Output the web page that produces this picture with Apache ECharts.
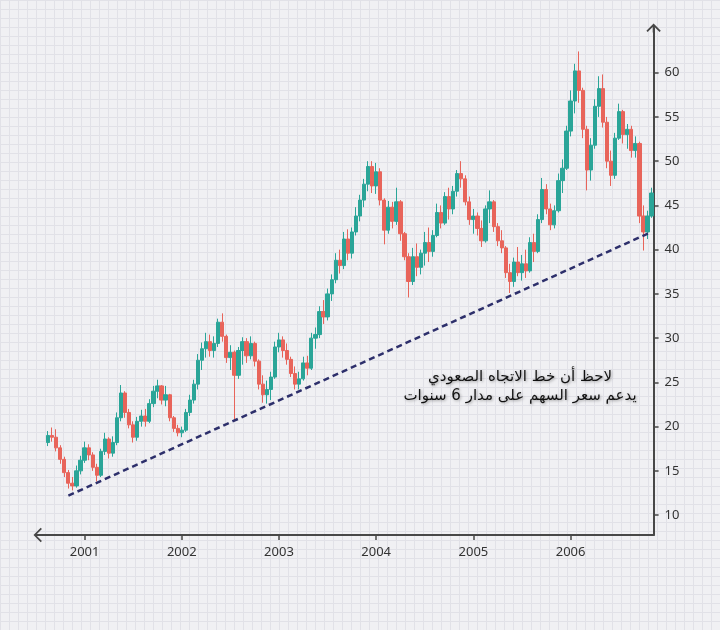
<!DOCTYPE html>
<html>
<head>
<meta charset="utf-8">
<script src="https://cdn.jsdelivr.net/npm/echarts@6/dist/echarts.min.js"></script>
<style>
  html, body { margin: 0; padding: 0; }
  body {
    width: 720px; height: 630px; overflow: hidden;
    background-color: #f0f0f3;
    background-image:
      linear-gradient(to right, #e1e1e7 1px, transparent 1px),
      linear-gradient(to bottom, #e1e1e7 1px, transparent 1px);
    background-size: 9px 9px;
  }
  #chart { width: 720px; height: 630px; }
</style>
</head>
<body>
<div id="chart"></div>
<script>
// ---- data ----
// half-month periods, first period starts 2000-07-16
const startYear = 2000, startMonth = 7, startHalf = 2, periodCount = 152;
const yearLabels = ['2001', '2002', '2003', '2004', '2005', '2006'];
const yTicks = [10, 15, 20, 25, 30, 35, 40, 45, 50, 55, 60];
// [open, close, low, high]
const candles = [
  ['-','-','-','-'], ['-','-','-','-'],
  [18.2,19.0,17.8,19.5],[19.0,18.8,18.3,19.9],[18.8,17.6,17.2,19.7],[17.6,16.3,15.8,17.9],
  [16.3,14.8,14.3,16.6],[14.8,13.6,13.0,15.1],[13.6,13.3,12.8,14.3],[13.3,15.0,13.1,15.6],
  [15.0,16.2,14.6,16.7],[16.2,17.6,15.9,18.3],[17.6,16.8,16.2,18.0],[16.8,15.4,15.0,17.1],
  [15.4,14.5,13.8,15.8],[14.5,17.2,14.3,17.5],[17.2,18.6,16.8,19.3],[18.6,17.0,16.4,18.8],
  [17.0,18.2,16.6,18.9],[18.2,21.0,17.9,21.6],[21.0,23.8,20.6,24.7],[23.8,21.6,21.0,24.0],
  [21.6,20.2,19.8,22.0],[20.2,18.8,18.2,20.6],[18.8,20.6,18.4,21.1],[20.6,21.2,20.0,21.9],
  [21.2,20.6,20.0,22.0],[20.6,22.6,20.4,23.1],[22.6,24.0,22.2,24.6],[24.0,24.6,23.2,25.3],
  [24.6,23.0,22.5,24.7],[23.0,23.6,22.3,24.6],[23.6,21.0,20.6,23.7],[21.0,19.8,19.4,21.2],
  [19.8,19.3,18.9,20.2],[19.3,19.6,18.8,20.0],[19.6,21.6,19.4,22.0],[21.6,23.0,21.2,23.6],
  [23.0,24.8,22.6,25.3],[24.8,27.5,24.2,28.2],[27.5,28.8,26.4,29.5],[28.8,29.6,27.8,30.6],
  [29.6,28.6,27.9,30.4],[28.6,29.4,27.8,30.2],[29.4,31.8,29.0,32.2],[31.8,30.2,29.6,32.8],
  [30.2,27.8,27.2,30.4],[27.8,28.4,26.4,29.2],[28.4,25.8,20.6,28.6],[25.8,28.6,25.4,29.0],
  [28.6,29.6,27.0,30.1],[29.6,28.0,27.2,30.0],[28.0,29.4,27.6,30.2],[29.4,27.4,26.8,29.6],
  [27.4,24.8,24.2,27.6],[24.8,23.6,22.7,25.8],[23.6,24.2,22.6,25.2],[24.2,25.6,23.0,26.2],
  [25.6,29.0,25.4,29.6],[29.0,29.8,28.4,30.6],[29.8,28.6,27.8,30.2],[28.6,27.6,27.0,29.4],
  [27.6,26.0,25.6,27.9],[26.0,24.8,24.2,26.8],[24.8,25.4,24.2,26.2],[25.4,27.2,25.2,27.9],
  [27.2,26.6,25.8,28.0],[26.6,30.0,26.4,30.6],[30.0,30.4,28.8,31.2],[30.4,33.0,30.0,33.6],
  [33.0,32.4,31.6,34.3],[32.4,35.0,32.0,35.6],[35.0,36.6,34.2,37.2],[36.6,38.8,36.2,39.6],
  [38.8,38.2,37.3,40.0],[38.2,41.2,37.8,42.0],[41.2,39.6,38.8,42.3],[39.6,42.0,39.0,42.5],
  [42.0,43.8,41.6,44.8],[43.8,45.6,43.2,46.2],[45.6,47.4,44.8,48.0],[47.4,49.4,46.6,50.0],
  [49.4,47.2,46.4,50.0],[47.2,48.8,46.3,49.8],[48.8,45.6,45.0,49.2],[45.6,42.2,40.6,45.8],
  [42.2,44.8,41.8,45.5],[44.8,43.2,42.4,45.4],[43.2,45.4,42.8,47.0],[45.4,41.8,41.0,45.6],
  [41.8,39.2,38.8,42.0],[39.2,36.4,34.6,39.6],[36.4,39.2,36.0,40.2],[39.2,38.0,37.0,40.7],
  [38.0,39.6,37.2,40.0],[39.6,40.8,38.2,42.0],[40.8,39.8,38.6,42.5],[39.8,41.6,39.2,42.2],
  [41.6,44.2,41.4,45.2],[44.2,43.0,42.4,45.0],[43.0,46.0,42.8,46.5],[46.0,44.6,43.4,47.0],
  [44.6,46.6,44.0,47.2],[46.6,48.6,46.0,49.0],[48.6,48.0,47.0,50.0],[48.0,45.4,45.0,48.4],
  [45.4,43.4,42.8,46.0],[43.4,43.8,41.8,44.6],[43.8,42.4,41.6,44.2],[42.4,41.0,40.3,43.3],
  [41.0,44.6,40.8,45.0],[44.6,45.4,43.0,46.7],[45.4,42.6,42.0,45.6],[42.6,41.0,40.4,43.0],
  [41.0,40.2,39.6,42.2],[40.2,37.4,36.8,40.4],[37.4,36.4,35.1,38.4],[36.4,38.6,35.8,39.1],
  [38.6,37.4,37.0,40.3],[37.4,38.4,36.5,39.4],[38.4,37.6,36.8,40.0],[37.6,40.8,37.4,41.4],
  [40.8,39.8,38.6,41.8],[39.8,43.4,39.6,44.0],[43.4,46.8,43.0,48.1],[46.8,44.6,44.0,47.4],
  [44.6,42.8,42.2,45.2],[42.8,44.4,42.4,45.0],[44.4,47.8,44.2,48.6],[47.8,49.2,46.4,50.2],
  [49.2,53.4,49.0,54.0],[53.4,56.8,52.8,58.0],[56.8,60.2,55.4,61.0],[60.2,58.0,56.6,62.4],
  [58.0,53.6,52.6,58.3],[53.6,49.0,46.7,54.0],[49.0,51.8,47.8,52.6],[51.8,56.2,51.4,57.0],
  [56.2,58.2,55.0,59.6],[58.2,54.4,53.8,59.8],[54.4,50.0,49.2,55.0],[50.0,48.4,47.2,51.2],
  [48.4,52.6,48.0,53.2],[52.6,55.6,52.4,56.5],[55.6,53.0,52.0,55.8],[53.0,53.6,51.4,54.2],
  [53.6,51.2,50.4,54.0],[51.2,52.0,50.4,52.8],[52.0,43.8,43.0,52.2],[43.8,42.0,39.9,45.0],
  [42.0,43.8,41.2,44.4],[43.8,46.4,43.6,47.0]
];
const trendLine = [['2000-11-01', 12.2], ['2006-11-01', 42.0]];
const noteText = 'لاحظ أن خط الاتجاه الصعودي\nيدعم سعر السهم على مدار 6 سنوات';

// ---- categories (half-month period start dates) ----
const categories = [];
{
  let y = startYear, m = startMonth, h = startHalf;
  for (let k = 0; k < periodCount; k++) {
    categories.push(y + '-' + String(m).padStart(2, '0') + '-' + (h === 1 ? '01' : '16'));
    if (h === 1) { h = 2; } else { h = 1; m++; if (m > 12) { m = 1; y++; } }
  }
}
const isYearStart = (idx, v) => v.endsWith('-01-01') && yearLabels.includes(v.slice(0, 4));

const axisColor = '#474747';
const arrowPath = 'path://M8 0 L16 8 L14.6 9.4 L9 3.8 L9 10 L7 10 L7 3.8 L1.4 9.4 L0 8 Z';

const chart = echarts.init(document.getElementById('chart'), null, { renderer: 'canvas' });
chart.setOption({
  animation: false,
  backgroundColor: 'transparent',
  grid: { left: 38, right: 66.4, top: 28, bottom: 95 },
  xAxis: {
    type: 'category',
    data: categories,
    boundaryGap: true,
    axisLine: {
      show: true, onZero: false,
      lineStyle: { color: axisColor, width: 2 },
      symbol: [arrowPath, 'none'], symbolSize: [15, 9]
    },
    axisTick: { show: true, interval: isYearStart, alignWithLabel: true, length: 5, lineStyle: { color: axisColor, width: 1.5 } },
    axisLabel: {
      interval: isYearStart, margin: 11,
      formatter: v => v.slice(0, 4),
      color: '#333', fontSize: 13, fontFamily: 'Noto Sans'
    },
    splitLine: { show: false }
  },
  yAxis: {
    type: 'value',
    position: 'right',
    min: 7.75, max: 65.05,
    axisLine: {
      show: true, onZero: false,
      lineStyle: { color: axisColor, width: 2 },
      symbol: ['none', arrowPath], symbolSize: [15, 9]
    },
    axisTick: { show: true, length: 5, customValues: yTicks, lineStyle: { color: axisColor, width: 1.5 } },
    axisLabel: { customValues: yTicks, margin: 11, color: '#333', fontSize: 13, fontFamily: 'Noto Sans' },
    splitLine: { show: false }
  },
  series: [{
    type: 'candlestick',
    data: candles,
    barWidth: '92%',
    itemStyle: {
      color: '#2aa598', color0: '#e8645a',
      borderColor: '#2aa598', borderColor0: '#e8645a', borderWidth: 1
    },
    markLine: {
      silent: true,
      symbol: ['none', 'none'],
      label: { show: false },
      lineStyle: { type: [6, 4], color: '#2d2f6b', width: 2.5 },
      data: [[{ coord: trendLine[0] }, { coord: trendLine[1] }]]
    }
  }],
  graphic: [{
    type: 'text',
    x: 520, y: 368,
    style: {
      text: noteText,
      fontFamily: 'DejaVu Sans',
      fontSize: 15,
      lineHeight: 19,
      fill: '#111',
      textAlign: 'center',
      align: 'center',
      textShadowColor: 'rgba(0,0,0,0.35)',
      textShadowBlur: 3,
      textShadowOffsetX: 1,
      textShadowOffsetY: 1
    }
  }]
});
</script>
</body>
</html>
